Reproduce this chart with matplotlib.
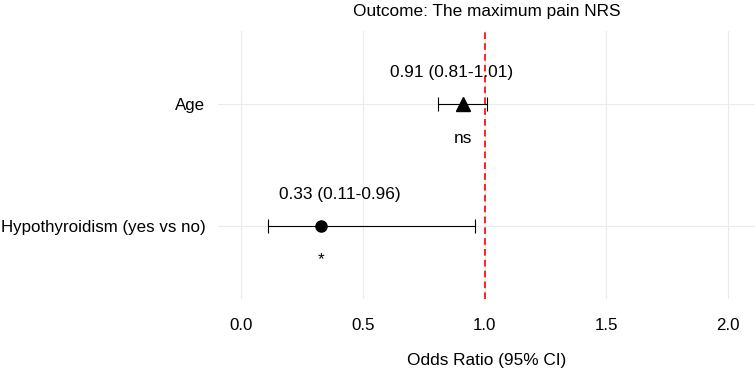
import matplotlib.pyplot as plt

plt.rcParams['font.family'] = ['Liberation Sans', 'DejaVu Sans']

# data
variables = ['Age', 'Hypothyroidism (yes vs no)']
odds_ratio = [0.91, 0.33]
ci_low = [0.81, 0.11]
ci_high = [1.01, 0.96]
signif = ['ns', '*']
markers = ['^', 'o']
x_ticks = [0.0, 0.5, 1.0, 1.5, 2.0]

# label x positions (as in the original, slightly shifted)
label_x = [0.865, 0.405]

fig = plt.figure(figsize=(7.55, 3.69), dpi=100)
ax = fig.add_axes([218 / 755, 1 - 299 / 369, (755 - 218) / 755, (299 - 31) / 369])

ypos = [2, 1]
for i in range(len(variables)):
    y = ypos[i]
    ax.errorbar(odds_ratio[i], y,
                xerr=[[odds_ratio[i] - ci_low[i]], [ci_high[i] - odds_ratio[i]]],
                fmt='none', ecolor='black', elinewidth=0.8, capsize=5, capthick=0.8, zorder=3)
    ax.plot(odds_ratio[i], y, marker=markers[i], color='black',
            markersize=9.5 if markers[i] == '^' else 8, linestyle='none', zorder=4)
    txt = f'{odds_ratio[i]:.2f} ({ci_low[i]:.2f}-{ci_high[i]:.2f})'
    ax.text(label_x[i], y + 0.26, txt, ha='center', va='center', fontsize=12.4)
    ax.text(odds_ratio[i], y - 0.28, signif[i], ha='center', va='center', fontsize=12.4)

ax.axvline(1.0, color='#FF0000', linestyle=(0, (4, 2.5)), linewidth=1.2, zorder=2)

ax.set_xlim(-0.094, 2.11)
ax.set_ylim(0.4, 2.6)
ax.set_yticks(ypos)
ax.set_yticklabels(variables)
ax.set_xticks(x_ticks)
ax.set_xticklabels([f'{v:.1f}' for v in x_ticks])
ax.grid(True, color='#EBEBEB', linewidth=0.8)
ax.set_axisbelow(True)
for s in ax.spines.values():
    s.set_visible(False)
ax.tick_params(length=0, labelsize=12.2, colors='black', pad=9)
ax.tick_params(axis='x', pad=14)
ax.set_xlabel('Odds Ratio (95% CI)', fontsize=12.4, labelpad=14)
ax.set_title('Outcome: The maximum pain NRS', fontsize=12.4, pad=11)

fig.savefig('out.png', dpi=100)
